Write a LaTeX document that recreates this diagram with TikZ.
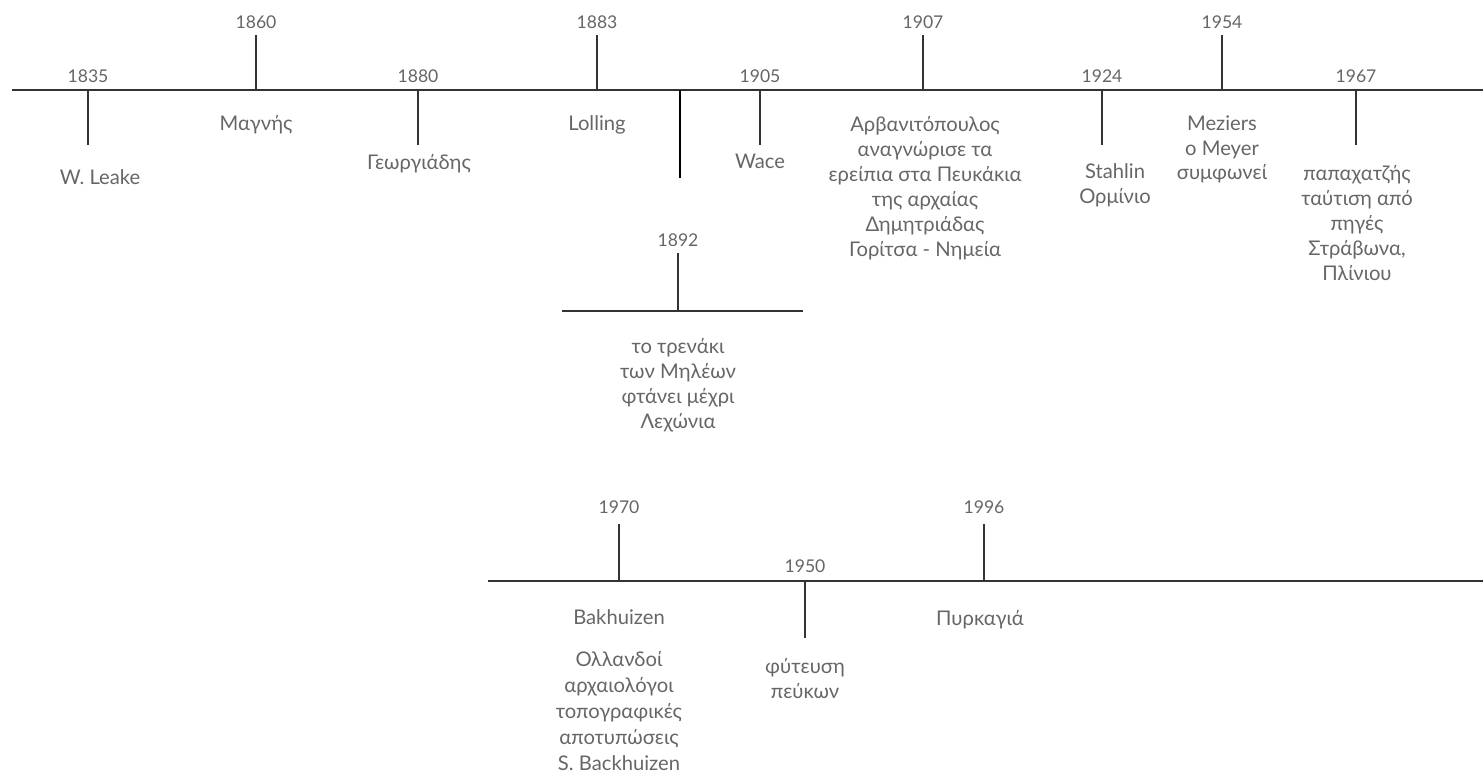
\documentclass[tikz,border=0pt]{standalone}
\usepackage{fontspec}
\setmainfont{Lato}
\usetikzlibrary{positioning}

\begin{document}
\begin{tikzpicture}[x=0.02cm,y=-0.02cm,
  every node/.style={text=black!60,inner sep=0pt},
  year/.style={font=\fontsize{10}{12}\selectfont},
  note/.style={font=\fontsize{11.5}{14.2}\selectfont,align=center,anchor=north},
  axis/.style={draw=black!80,line width=1.1pt},
  tick/.style={draw=black!80,line width=1.1pt}]
\useasboundingbox (0,0) rectangle (1483,777);

% top timeline
\coordinate (topL) at (12,90);
\coordinate (topR) at (1483,90);
\draw[axis] (topL) -- (topR);
\foreach \x/\yr/\e in {88/1835/145,256/1860/35,418/1880/145,597/1883/35,
                       760/1905/145,923/1907/35,1102/1924/145,1222/1954/35,1356/1967/145}{
  \coordinate (t\yr) at (\x,90);
  \coordinate (e\yr) at (\x,\e);
  \draw[tick] (t\yr) -- (e\yr);
}
\node[year] (y1835) at (88,76) {1835};
\node[year] (y1860) at (256,22) {1860};
\node[year] (y1880) at (418,76) {1880};
\node[year] (y1883) at (597,22) {1883};
\node[year] (y1905) at (760,76) {1905};
\node[year] (y1907) at (923,22) {1907};
\node[year] (y1924) at (1102,76) {1924};
\node[year] (y1954) at (1222,22) {1954};
\node[year] (y1967) at (1356,76) {1967};

\node[note] (n1835) at (100,169) {W. Leake};
\node[note] (n1860) at (256,115) {Μαγνής};
\node[note] (n1880) at (419,154) {Γεωργιάδης};
\node[note] (n1883) at (597,115) {Lolling};
\node[note] (n1905) at (760,154) {Wace};
\node[note] (n1907) at (925,116) {Αρβανιτόπουλος\\αναγνώρισε τα\\ερείπια στα Πευκάκια\\της αρχαίας\\Δημητριάδας\\Γορίτσα - Νημεία};
\node[note] (n1924) at (1115,163) {Stahlin\\Ορμίνιο};
\node[note] (n1954) at (1222,115) {Meziers\\ο Meyer\\συμφωνεί};
\node[note] (n1967) at (1357,165) {παπαχατζής\\ταύτιση από\\πηγές\\Στράβωνα,\\Πλίνιου};

% branch to 1892
\coordinate (t1892) at (680,90);
\coordinate (e1892) at (680,178);
\draw[draw=black,line width=1.6pt] (t1892) -- (e1892);

\coordinate (subL) at (562,311);
\coordinate (subR) at (803,311);
\coordinate (s1892) at (678,311);
\coordinate (u1892) at (678,253);
\draw[axis] (subL) -- (subR);
\draw[tick] (s1892) -- (u1892);
\node[year] (y1892) at (678,240) {1892};
\node[note] (n1892) at (678,338) {το τρενάκι\\των Μηλέων\\φτάνει μέχρι\\Λεχώνια};

% bottom timeline
\coordinate (botL) at (488,581);
\coordinate (botR) at (1483,581);
\draw[axis] (botL) -- (botR);
\foreach \x/\yr/\e in {619/1970/524,805/1950/638,984/1996/524}{
  \coordinate (b\yr) at (\x,581);
  \coordinate (f\yr) at (\x,\e);
  \draw[tick] (b\yr) -- (f\yr);
}
\node[year] (y1970) at (619,507) {1970};
\node[year] (y1950) at (805,566) {1950};
\node[year] (y1996) at (984,507) {1996};

\node[note] (n1970) at (619,609) {Bakhuizen};
\node[note,font=\fontsize{11.5}{14.8}\selectfont] (m1970) at (619,651) {Ολλανδοί\\αρχαιολόγοι\\τοπογραφικές\\αποτυπώσεις\\S. Backhuizen};
\node[note] (n1950) at (805,658) {φύτευση\\πεύκων};
\node[note] (n1996) at (980,610) {Πυρκαγιά};
\end{tikzpicture}
\end{document}
